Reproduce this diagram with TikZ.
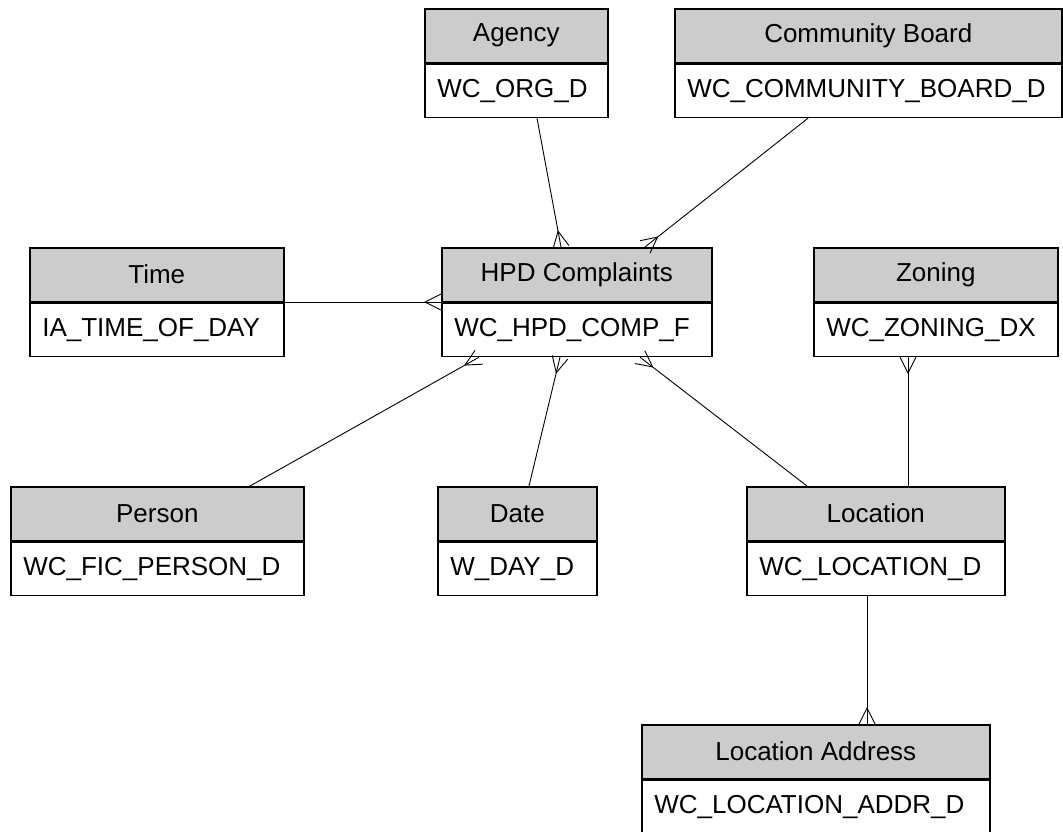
\documentclass[tikz,border=0pt]{standalone}
\usepackage{fontspec}
\setmainfont{Liberation Sans}
\usetikzlibrary{calc,decorations.markings}
\tikzset{
  hdr/.style={draw=black, line width=1.6pt, fill=black!20, minimum height=53.5pt, inner sep=0pt, anchor=north west, font=\fontsize{26}{31}\selectfont},
  bdy/.style={draw=black, line width=1.6pt, fill=white, minimum height=53.5pt, inner xsep=12.5pt, inner ysep=0pt, anchor=north west, align=left, font=\fontsize{26}{31}\selectfont},
  conn/.style={draw=black, line width=0.9pt, postaction={decorate}, decoration={markings, mark=at position 1 with {\draw[line width=0.9pt] (0pt,8pt) -- (-16pt,0pt) -- (0pt,-8pt);}}},
}
\newcommand{\entity}[6]{%
  \pgfmathsetmacro{\tw}{#4-25}%
  \node[hdr, minimum width=#4pt] (#1h) at (#2,#3) {#5};
  \node[bdy, minimum width=#4pt, text width=\tw pt] (#1b) at (#1h.south west) {#6};
}
\begin{document}
\begin{tikzpicture}[x=1pt, y=-1pt]
\useasboundingbox (0,0) rectangle (1063,831);
\entity{ag}{424}{8}{183}{Agency}{WC\_ORG\_D}
\entity{cb}{674}{8}{387}{Community Board}{WC\_COMMUNITY\_BOARD\_D}
\entity{ti}{29}{247}{254}{Time}{IA\_TIME\_OF\_DAY}
\entity{hp}{441}{247}{270}{HPD Complaints}{WC\_HPD\_COMP\_F}
\entity{zo}{813}{247}{244}{Zoning}{WC\_ZONING\_DX}
\entity{pe}{10}{486}{293}{Person}{WC\_FIC\_PERSON\_D}
\entity{da}{437}{486}{159}{Date}{W\_DAY\_D}
\entity{lo}{746}{486}{258}{Location}{WC\_LOCATION\_D}
\entity{la}{641}{724}{348}{Location Address}{WC\_LOCATION\_ADDR\_D}
% connectors
\draw[conn] ($(agb.south west)+(113,0)$) -- ($(hph.north west)+(120,0)$);
\draw[conn] ($(cbb.south west)+(134,0)$) -- ($(hph.north west)+(204,0)$);
\draw[conn] (tih.south east) -- (hph.south west);
\draw[conn] ($(peh.north west)+(240,0)$) -- ($(hpb.south west)+(38,0)$);
\draw[conn] ($(dah.north west)+(92,0)$) -- ($(hpb.south west)+(119,0)$);
\draw[conn] ($(loh.north west)+(61,0)$) -- ($(hpb.south west)+(199,0)$);
\draw[conn] ($(loh.north west)+(162,0)$) -- ($(zob.south west)+(95,0)$);
\draw[conn] ($(lob.south west)+(121,0)$) -- ($(lah.north west)+(226,0)$);
\end{tikzpicture}
\end{document}
